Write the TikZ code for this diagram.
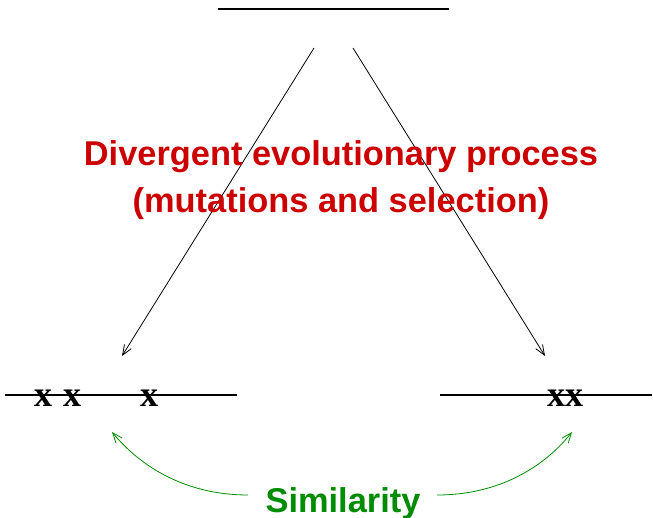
\documentclass[tikz,border=0pt]{standalone}
\usepackage{fontspec}
\setmainfont{Liberation Serif}
\newfontfamily\labelfont{Liberation Sans}
\usetikzlibrary{arrows.meta}
\definecolor{divred}{RGB}{205,0,0}
\definecolor{simgreen}{RGB}{0,140,0}
\begin{document}
\begin{tikzpicture}[x=1pt,y=-1pt,
  seqline/.style={line width=1.5pt,black},
  evoarrow/.style={line width=0.8pt,black,-{Straight Barb[length=10pt,width=8pt]}},
  simarrow/.style={line width=0.8pt,simgreen,-{Straight Barb[length=10pt,width=8pt]}},
  bigtext/.style={font=\labelfont\bfseries\fontsize{34.4}{47}\selectfont,align=center,inner sep=0pt},
  mut/.style={font=\bfseries\fontsize{36}{36}\selectfont,inner sep=0pt,anchor=base}]
\useasboundingbox (0,0) rectangle (653,518);
% top sequence
\coordinate (t1) at (218,9);
\coordinate (t2) at (449,9);
\draw[seqline] (t1) -- (t2);
% bottom sequences
\coordinate (l1) at (5,395);
\coordinate (l2) at (237,395);
\draw[seqline] (l1) -- (l2);
\coordinate (r1) at (440,395);
\coordinate (r2) at (652,395);
\draw[seqline] (r1) -- (r2);
% mutations
\node[mut] (m1) at (43,406) {x};
\node[mut] (m2) at (72,406) {x};
\node[mut] (m3) at (149,406) {x};
\node[mut] (m4) at (565,406) {xx};
% divergence arrows
\coordinate (a1s) at (314,48);
\coordinate (a1e) at (122,356);
\coordinate (a2s) at (353,48);
\coordinate (a2e) at (545,356);
\draw[evoarrow] (a1s) -- (a1e);
\draw[evoarrow] (a2s) -- (a2e);
% label
\node[bigtext,text=divred] (div) at (341,180) {Divergent evolutionary process\\(mutations and selection)};
% similarity
\node[bigtext,text=simgreen,anchor=base] (sim) at (343,512) {Similarity};
\coordinate (s1) at (248,495);
\coordinate (s1e) at (112,432);
\coordinate (s2) at (437,495);
\coordinate (s2e) at (572,432);
\draw[simarrow] (s1) .. controls (185,495) and (140,466) .. (s1e);
\draw[simarrow] (s2) .. controls (500,495) and (545,466) .. (s2e);
\end{tikzpicture}
\end{document}
